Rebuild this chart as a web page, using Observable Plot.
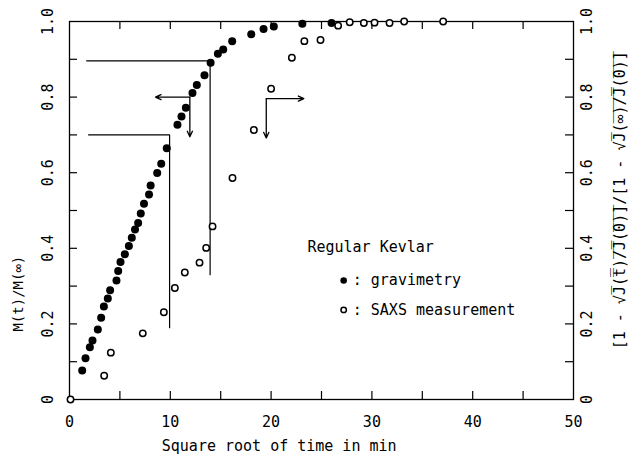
<!DOCTYPE html>
<html><head><meta charset="utf-8">
<script src="https://cdn.jsdelivr.net/npm/d3@7"></script>
<script src="https://cdn.jsdelivr.net/npm/@observablehq/plot@0.6"></script>
<style>body{margin:0;background:#fff}</style>
</head><body><div id="chart"></div>
<script>
// gravimetry (filled circles)
const gravX = [1.26, 1.59, 2.02, 2.28, 2.81, 3.14, 3.41, 3.8, 4.03, 4.66, 4.83, 5.06, 5.49, 5.89, 6.18, 6.5, 6.81, 7.07, 7.39, 7.89, 8.05, 8.7, 9.1, 9.65, 10.71, 11.11, 11.54, 12.2, 12.63, 13.39, 14.0, 14.72, 15.25, 16.14, 18.03, 19.25, 20.27, 23.1, 26.0];
const gravY = [0.077, 0.109, 0.138, 0.156, 0.185, 0.216, 0.246, 0.267, 0.289, 0.315, 0.340, 0.364, 0.384, 0.406, 0.428, 0.450, 0.467, 0.492, 0.518, 0.542, 0.566, 0.599, 0.624, 0.665, 0.727, 0.749, 0.772, 0.811, 0.832, 0.858, 0.891, 0.915, 0.926, 0.948, 0.966, 0.980, 0.987, 0.994, 0.996];
// SAXS measurement (open circles)
const saxsX = [0.1, 3.44, 4.1, 7.27, 9.36, 10.45, 11.44, 12.9, 13.56, 14.19, 16.17, 18.29, 20.0, 22.06, 23.3, 24.9, 26.65, 27.8, 29.2, 30.26, 31.75, 33.2, 37.07];
const saxsY = [0, 0.063, 0.124, 0.175, 0.231, 0.295, 0.336, 0.362, 0.401, 0.458, 0.586, 0.713, 0.822, 0.904, 0.948, 0.951, 0.989, 0.998, 0.996, 0.997, 0.996, 1.0, 1.0];

const xLabels = [0, 10, 20, 30, 40, 50];
const xTickVals = [5, 10, 15, 20, 25, 30, 35, 40, 45];
const yTickVals = [0.1, 0.2, 0.3, 0.4, 0.5, 0.6, 0.7, 0.8, 0.9];
const yLabelVals = [0, 0.2, 0.4, 0.6, 0.8, 1.0];
const yLabelText = ["0", "0.2", "0.4", "0.6", "0.8", "1.0"];

// guide lines (polyline vertices)
const guideId = [1, 1, 1, 2, 2, 2];
const guideX = [1.9, 9.93, 9.93, 1.7, 13.95, 13.95];
const guideY = [0.70, 0.70, 0.19, 0.896, 0.896, 0.33];

// axis-indicator arrows
const arrowX1 = [11.94, 11.94, 19.52, 19.52];
const arrowY1 = [0.80, 0.80, 0.796, 0.796];
const arrowX2 = [8.53, 11.94, 23.25, 19.52];
const arrowY2 = [0.80, 0.695, 0.796, 0.692];

const xTitle = "Square root of time in min";
const yTitle = "M(t)/M(∞)";
const ol = s => [...s].map(c => c + "\u0305").join("");
const y2Title = "[1 - √" + ol("J(t)/J(0)") + "]/[1 - √" + ol("J(∞)/J(0)") + "]";
const legendTitle = "Regular Kevlar";
const legendLabels = [": gravimetry", ": SAXS measurement"];

const grav = gravX.map((x, i) => ({x, y: gravY[i]}));
const saxs = saxsX.map((x, i) => ({x, y: saxsY[i]}));
const guides = guideX.map((x, i) => ({x, y: guideY[i], id: guideId[i]}));
const arrows = arrowX1.map((x1, i) => ({x1, y1: arrowY1[i], x2: arrowX2[i], y2: arrowY2[i]}));
const yLab = yLabelVals.map((v, i) => ({v, t: yLabelText[i]}));

const chart = Plot.plot({
  width: 634, height: 462,
  marginLeft: 69, marginRight: 61, marginTop: 21, marginBottom: 63,
  x: {domain: [0, 50]},
  y: {domain: [0, 1], axis: null},
  style: {fontFamily: "'DejaVu Sans Mono', monospace", fontSize: "15px", background: "white", color: "black"},
  marks: [
    Plot.frame({stroke: "black", strokeWidth: 1.3}),
    Plot.axisX(xLabels, {tickSize: 0, tickPadding: 17, fontSize: 15}),
    Plot.tickX(xTickVals, {x: d => d, insetTop: 370, stroke: "black", strokeWidth: 1.2}),
    Plot.tickX(xTickVals, {x: d => d, insetBottom: 370, stroke: "black", strokeWidth: 1.2}),
    Plot.tickY(yTickVals, {y: d => d, insetRight: 496, stroke: "black", strokeWidth: 1.2}),
    Plot.tickY(yTickVals, {y: d => d, insetLeft: 496, stroke: "black", strokeWidth: 1.2}),
    Plot.text(yLab, {x: 0, y: "v", text: "t", rotate: -90, dx: -21, fontSize: 15}),
    Plot.text(yLab, {x: 50, y: "v", text: "t", rotate: -90, dx: 14, fontSize: 15}),
    Plot.text([xTitle], {x: 20.8, frameAnchor: "bottom", dy: 51, fontSize: 15}),
    Plot.text([yTitle], {x: 0, y: 0.28, rotate: -90, dx: -51, fontSize: 14}),
    Plot.text([y2Title], {x: 50, y: 0.527, rotate: -90, dx: 47, fontSize: 15}),
    Plot.line(guides, {x: "x", y: "y", z: "id", stroke: "black", strokeWidth: 1.2}),
    Plot.arrow(arrows, {x1: "x1", y1: "y1", x2: "x2", y2: "y2", stroke: "black", strokeWidth: 1.3, headLength: 7, headAngle: 50}),
    Plot.dot(grav, {x: "x", y: "y", r: 4, fill: "black", stroke: "none"}),
    Plot.dot(saxs, {x: "x", y: "y", r: 3.2, fill: "white", stroke: "black", strokeWidth: 1.5}),
    Plot.text([legendTitle], {x: 23.6, y: 0.403, textAnchor: "start", fontSize: 15}),
    Plot.dot([0], {x: 27.2, y: 0.315, r: 3.3, fill: "black"}),
    Plot.dot([0], {x: 27.2, y: 0.237, r: 2.7, fill: "white", stroke: "black", strokeWidth: 1.5}),
    Plot.text([legendLabels[0]], {x: 28.1, y: 0.315, textAnchor: "start", fontSize: 15}),
    Plot.text([legendLabels[1]], {x: 28.1, y: 0.237, textAnchor: "start", fontSize: 15})
  ]
});
document.getElementById("chart").appendChild(chart);
</script>
</body></html>
